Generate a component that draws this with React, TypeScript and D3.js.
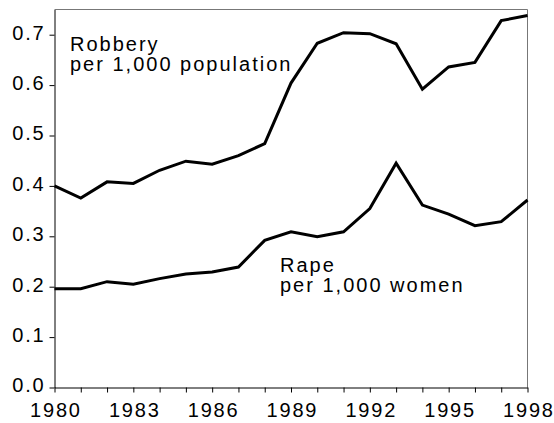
import React, { useEffect, useRef } from 'react';
import * as d3 from 'd3';

const years = [1980, 1981, 1982, 1983, 1984, 1985, 1986, 1987, 1988, 1989,
  1990, 1991, 1992, 1993, 1994, 1995, 1996, 1997, 1998];

const robbery = [0.400, 0.376, 0.408, 0.405, 0.431, 0.449, 0.443, 0.460, 0.484, 0.604,
  0.683, 0.704, 0.702, 0.682, 0.592, 0.636, 0.645, 0.728, 0.738];

const rape = [0.196, 0.196, 0.210, 0.205, 0.216, 0.225, 0.229, 0.239, 0.292, 0.309,
  0.299, 0.309, 0.355, 0.445, 0.362, 0.344, 0.321, 0.329, 0.372];

const yTicks = [0, 0.1, 0.2, 0.3, 0.4, 0.5, 0.6, 0.7];
const xLabelYears = [1980, 1983, 1986, 1989, 1992, 1995, 1998];

const robberyLabel = ['Robbery', 'per 1,000 population'];
const rapeLabel = ['Rape', 'per 1,000 women'];

export default function App() {
  const svgRef = useRef<SVGSVGElement | null>(null);

  useEffect(() => {
    if (!svgRef.current) return;
    const svg = d3.select(svgRef.current);
    svg.selectAll('*').remove();

    const left = 54.5, right = 527.5, top = 9.5, bottom = 387.5;
    const font = '"Liberation Sans", Arial, Helvetica, sans-serif';
    const fontSize = '20px';
    const spacing = '1.8px';

    const x = d3.scaleLinear().domain([1980, 1998]).range([left, right]);
    const y = d3.scaleLinear().domain([0, 0.75]).range([bottom, top]);

    // frame (top & right in grey)
    svg.append('path')
      .attr('d', `M${left},${top}H${right}V${bottom}`)
      .attr('fill', 'none')
      .attr('stroke', '#777')
      .attr('stroke-width', 1);

    // Y axis
    const yAxis = svg.append('g')
      .attr('transform', `translate(${left},0)`)
      .call(d3.axisLeft(y).tickValues(yTicks).tickSize(5).tickSizeOuter(0).tickFormat(d3.format('.1f')));
    yAxis.select('.domain').attr('stroke', '#000');
    yAxis.selectAll('.tick line').attr('stroke', '#000');
    yAxis.selectAll('.tick text')
      .attr('x', -9)
      .attr('dy', '0.22em')
      .attr('fill', '#000')
      .style('font-family', font)
      .style('font-size', fontSize)
      .style('letter-spacing', spacing);

    // X axis
    const xAxis = svg.append('g')
      .attr('transform', `translate(0,${bottom})`)
      .call(d3.axisBottom(x).tickValues(years).tickSize(5).tickSizeOuter(0)
        .tickFormat(d => (xLabelYears.includes(d as number) ? String(d) : '')));
    xAxis.select('.domain').attr('stroke', '#000');
    xAxis.selectAll('.tick line').attr('stroke', '#000');
    xAxis.selectAll('.tick text')
      .attr('y', 29)
      .attr('dy', 0)
      .attr('dx', '0.9px')
      .attr('fill', '#000')
      .style('font-family', font)
      .style('font-size', fontSize)
      .style('letter-spacing', spacing);

    // Lines
    const addLine = (vals: number[]) => {
      const line = d3.line<number>()
        .x((_, i) => x(years[i]))
        .y(d => y(d));
      svg.append('path')
        .datum(vals)
        .attr('fill', 'none')
        .attr('stroke', '#000')
        .attr('stroke-width', 3)
        .attr('stroke-linejoin', 'miter')
        .attr('d', line);
    };
    addLine(robbery);
    addLine(rape);

    // Labels
    const addLabel = (lines: string[], lx: number, ly: number) => {
      const t = svg.append('text')
        .attr('x', lx)
        .attr('y', ly)
        .attr('fill', '#000')
        .style('font-family', font)
        .style('font-size', fontSize)
        .style('letter-spacing', '2px');
      lines.forEach((s, i) => {
        t.append('tspan').attr('x', lx).attr('dy', i === 0 ? 0 : 20).text(s);
      });
    };
    addLabel(robberyLabel, 70, 51);
    addLabel(rapeLabel, 280, 271.5);
  }, []);

  return (
    <svg ref={svgRef} width={554} height={423}
      style={{ position: 'absolute', left: 0, top: 0, background: '#fff' }} />
  );
}
